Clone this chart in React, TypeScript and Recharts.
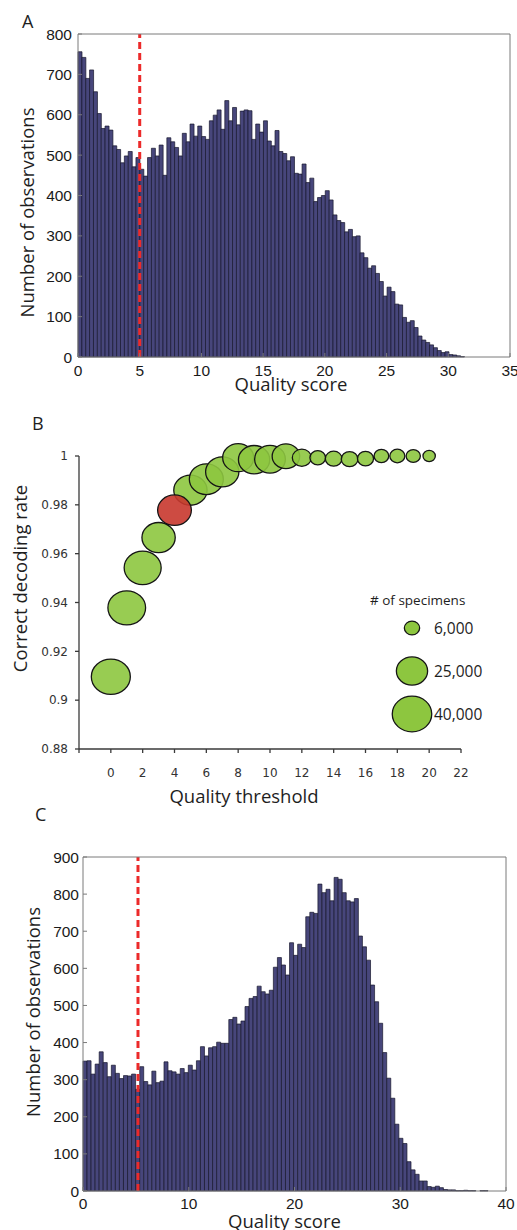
import {
  ComposedChart,
  Bar,
  XAxis,
  YAxis,
  ReferenceLine,
  ScatterChart,
  Scatter,
  ZAxis,
  Legend,
  Label,
} from 'recharts';

// ---- Panel A: quality score of all reads (100 bins) ----
const countsA = [
  756, 742, 690, 711, 657, 603, 566, 572, 562, 523,
  514, 481, 498, 509, 471, 494, 465, 448, 494, 517,
  498, 525, 450, 543, 533, 519, 498, 554, 533, 577,
  547, 572, 546, 539, 585, 599, 612, 564, 635, 585,
  618, 575, 609, 612, 610, 539, 577, 557, 585, 535,
  523, 561, 509, 504, 486, 496, 455, 453, 478, 432,
  443, 385, 395, 400, 412, 389, 352, 338, 333, 310,
  316, 298, 300, 258, 246, 220, 226, 207, 187, 151,
  173, 162, 131, 129, 98, 86, 90, 73, 52, 42,
  36, 30, 23, 16, 11, 13, 6, 5, 3, 1,
];
const binWidthA = 0.313;
const xTicksA = [0, 5, 10, 15, 20, 25, 30, 35];
const yTicksA = [0, 100, 200, 300, 400, 500, 600, 700, 800];
const cutoffA = 5;

// ---- Panel C: quality score, second data set (100 bins) ----
const countsC = [
  350, 351, 315, 342, 375, 346, 308, 339, 317, 303,
  311, 310, 315, 274, 335, 295, 286, 323, 292, 296,
  348, 324, 321, 315, 330, 319, 339, 326, 351, 389,
  364, 386, 389, 401, 398, 398, 462, 468, 450, 458,
  497, 519, 524, 552, 537, 531, 541, 603, 629, 609,
  582, 669, 635, 665, 656, 739, 751, 748, 827, 804,
  813, 782, 845, 840, 804, 782, 779, 788, 687, 658,
  622, 555, 510, 452, 373, 304, 250, 180, 142, 128,
  79, 57, 45, 27, 27, 12, 10, 13, 9, 4,
  3, 3, 1, 1, 2, 1, 1, 0, 1, 1,
];
const binWidthC = 0.383;
const xTicksC = [0, 10, 20, 30, 40];
const yTicksC = [0, 100, 200, 300, 400, 500, 600, 700, 800, 900];
const cutoffC = 5.2;

// ---- Panel B: decoding rate per quality threshold ----
const thresholds = [0, 1, 2, 3, 4, 5, 6, 7, 8, 9, 10, 11, 12, 13, 14, 15, 16, 17, 18, 19, 20];
const decodingRate = [
  0.9096, 0.9378, 0.9542, 0.9666, 0.9778, 0.986, 0.9905, 0.9935, 0.9993, 0.9985, 0.9987,
  0.9999, 0.9993, 0.9993, 0.9989, 0.9987, 0.9989, 1.0, 1.0, 1.0, 1.0,
];
const specimens = [
  39000, 36400, 35100, 28400, 29100, 28400, 29600, 28400, 24600, 25100, 24200,
  19400, 9300, 6300, 7100, 7100, 6600, 5500, 5800, 5200, 3900,
];
const chosenThreshold = 4;
const legendCounts = [6000, 25000, 40000];
const xTicksB = [-2, 0, 2, 4, 6, 8, 10, 12, 14, 16, 18, 20, 22];
const yTicksB = [0.88, 0.9, 0.92, 0.94, 0.96, 0.98, 1];

const AXIS_GREY = '#7a7a7a';
const BAR_FILL = '#47467b';
const BAR_EDGE = '#17172c';
const CUTOFF_RED = '#ec2a2a';
const BUBBLE_GREEN = '#8dc63f';
const BUBBLE_RED = '#c8372d';
const TICK_FONT = "'Liberation Sans', Arial, sans-serif";
const SMALL_TICK_FONT = "'DejaVu Sans', Verdana, sans-serif";
const TITLE_FONT = "'Open Sans', sans-serif";

const MAX_COUNT = 40000;
const MAX_AREA = Math.PI * 19 * 19;

const titleStyle = { fontFamily: TITLE_FONT, fontSize: 18.5, fill: '#1e1e1e' };

// axis titles placed from the axis box that recharts hands to the label
function bottomTitle(text: string, dx: number, baseline: number) {
  return (props: any) => {
    const vb = props.viewBox;
    return (
      <text x={vb.x + vb.width / 2 + dx} y={vb.y + baseline} textAnchor="middle" style={titleStyle}>
        {text}
      </text>
    );
  };
}

function leftTitle(text: string, cx: number, dy: number) {
  return (props: any) => {
    const vb = props.viewBox;
    const x = vb.x + cx;
    const y = vb.y + vb.height / 2 + dy;
    return (
      <text
        x={x}
        y={y}
        transform={`rotate(-90, ${x}, ${y})`}
        textAnchor="middle"
        dominantBaseline="central"
        style={titleStyle}
      >
        {text}
      </text>
    );
  };
}

function Histogram(props: any) {
  const { counts, binWidth, xMax, yMax, xTicks, yTicks, cutoff, height, margin, g } = props;
  const data = counts.map((n: number, i: number) => ({ q: (i + 0.5) * binWidth, n }));
  const tickStyle = { fill: '#1a1a1a', fontSize: 15.5, fontFamily: TICK_FONT };

  return (
    <ComposedChart width={517} height={height} data={data} margin={margin} barCategoryGap={0} barGap={0}>
      <XAxis
        dataKey="q"
        type="number"
        domain={[0, xMax]}
        ticks={xTicks}
        interval={0}
        height={g.xAxisHeight}
        tickSize={-4}
        tickMargin={g.xTickMargin}
        stroke={AXIS_GREY}
        tick={tickStyle}
      >
        <Label content={bottomTitle('Quality score', g.xTitleDx, g.xTitleBaseline)} />
      </XAxis>
      <YAxis
        type="number"
        domain={[0, yMax]}
        ticks={yTicks}
        interval={0}
        width={60}
        tickSize={-4}
        tickMargin={g.yTickMargin}
        stroke={AXIS_GREY}
        tick={tickStyle}
      >
        <Label content={leftTitle('Number of observations', g.yTitleX, g.yTitleDy)} />
      </YAxis>
      <XAxis
        xAxisId="top"
        orientation="top"
        mirror
        type="number"
        domain={[0, xMax]}
        ticks={xTicks.slice(1, -1)}
        tick={false}
        tickSize={4}
        stroke={AXIS_GREY}
      />
      <YAxis
        yAxisId="right"
        orientation="right"
        mirror
        type="number"
        domain={[0, yMax]}
        ticks={yTicks.slice(1, -1)}
        tick={false}
        tickSize={4}
        stroke={AXIS_GREY}
      />
      <Bar dataKey="n" fill={BAR_FILL} stroke={BAR_EDGE} strokeWidth={0.7} isAnimationActive={false} />
      <ReferenceLine x={cutoff} stroke={CUTOFF_RED} strokeWidth={3} strokeDasharray="7 4" />
    </ComposedChart>
  );
}

function bubbleShape(fill: string) {
  return (p: any) => {
    const r = p.width ? p.width / 2 : Math.sqrt((p.size || 0) / Math.PI);
    return (
      <ellipse
        cx={p.cx}
        cy={p.cy}
        rx={r * 1.04}
        ry={r * 0.94}
        fill={fill}
        fillOpacity={0.9}
        stroke="#151515"
        strokeWidth={1.3}
      />
    );
  };
}

function SpecimenLegend() {
  return (
    <svg width={140} height={150}>
      <text x={10} y={20} style={{ fontFamily: TITLE_FONT, fontSize: 13.5, fill: '#1e1e1e' }}>
        # of specimens
      </text>
      {legendCounts.map((c, i) => {
        const r = Math.sqrt((MAX_AREA * c) / MAX_COUNT / Math.PI);
        const cy = 43 + i * 43;
        return (
          <g key={c}>
            <ellipse cx={52} cy={cy} rx={r * 1.04} ry={r * 0.94} fill={BUBBLE_GREEN} stroke="#151515" strokeWidth={1.3} />
            <text x={74} y={cy} dominantBaseline="central" style={{ fontFamily: TITLE_FONT, fontSize: 15.5, fill: '#1e1e1e' }}>
              {c.toLocaleString('en-US')}
            </text>
          </g>
        );
      })}
    </svg>
  );
}

function DecodingChart() {
  const points = thresholds.map((t, i) => ({ t, rate: decodingRate[i], n: specimens[i] }));
  const others = points.filter((d) => d.t !== chosenThreshold);
  const chosen = points.filter((d) => d.t === chosenThreshold);
  const tickStyle = { fill: '#333', fontSize: 12, fontFamily: SMALL_TICK_FONT };

  return (
    <ScatterChart width={517} height={430} margin={{ top: 76, right: 56, bottom: 1, left: 19 }}>
      <XAxis
        dataKey="t"
        type="number"
        domain={[-2, 22]}
        ticks={xTicksB}
        interval={0}
        height={60}
        tickSize={4}
        tickMargin={15}
        stroke="#3a3a3a"
        strokeWidth={1.3}
        tick={tickStyle}
        tickFormatter={(v: number) => (v < 0 ? '' : String(v))}
      >
        <Label content={bottomTitle('Quality threshold', -26, 54)} />
      </XAxis>
      <YAxis
        dataKey="rate"
        type="number"
        domain={[0.88, 1]}
        ticks={yTicksB}
        interval={0}
        width={60}
        tickSize={4}
        tickMargin={7}
        stroke="#3a3a3a"
        strokeWidth={1.3}
        tick={tickStyle}
        tickFormatter={(v: number) => String(Number(v.toFixed(2)))}
      >
        <Label content={leftTitle('Correct decoding rate', 0, -24)} />
      </YAxis>
      <ZAxis dataKey="n" type="number" domain={[0, MAX_COUNT]} range={[0, MAX_AREA]} />
      <Scatter data={others} shape={bubbleShape(BUBBLE_GREEN)} isAnimationActive={false} />
      <Scatter data={chosen} shape={bubbleShape(BUBBLE_RED)} isAnimationActive={false} />
      <Legend
        layout="vertical"
        align="center"
        verticalAlign="middle"
        content={() => <SpecimenLegend />}
        wrapperStyle={{ left: 360, top: 205, width: 140, height: 150 }}
      />
    </ScatterChart>
  );
}

function PanelLetter({ letter, x, y }: { letter: string; x: number; y: number }) {
  return (
    <div
      style={{
        position: 'absolute',
        left: x,
        top: y,
        fontFamily: TITLE_FONT,
        fontSize: 18,
        lineHeight: '18px',
        color: '#1e1e1e',
      }}
    >
      {letter}
    </div>
  );
}

export default function App() {
  return (
    <div
      style={{
        position: 'absolute',
        left: 0,
        top: 0,
        width: 517,
        height: 1230,
        background: '#fff',
        overflow: 'hidden',
      }}
    >
      <div style={{ position: 'absolute', left: 0, top: 0 }}>
        <Histogram
          counts={countsA}
          binWidth={binWidthA}
          xMax={35}
          yMax={800}
          xTicks={xTicksA}
          yTicks={yTicksA}
          cutoff={cutoffA}
          height={400}
          margin={{ top: 34, right: 7, bottom: 0, left: 18 }}
          g={{ xAxisHeight: 43, xTickMargin: 12, yTickMargin: 10, xTitleDx: -3, xTitleBaseline: 34, yTitleX: 8, yTitleDy: 17 }}
        />
      </div>
      <div style={{ position: 'absolute', left: 0, top: 380 }}>
        <DecodingChart />
      </div>
      <div style={{ position: 'absolute', left: 0, top: 800 }}>
        <Histogram
          counts={countsC}
          binWidth={binWidthC}
          xMax={40}
          yMax={900}
          xTicks={xTicksC}
          yTicks={yTicksC}
          cutoff={cutoffC}
          height={430}
          margin={{ top: 57, right: 11, bottom: 0, left: 23 }}
          g={{ xAxisHeight: 39, xTickMargin: 11, yTickMargin: 8, xTitleDx: -10, xTitleBaseline: 37, yTitleX: 9, yTitleDy: -12 }}
        />
      </div>
      <PanelLetter letter="A" x={22} y={12} />
      <PanelLetter letter="B" x={32} y={414} />
      <PanelLetter letter="C" x={35} y={805} />
    </div>
  );
}
